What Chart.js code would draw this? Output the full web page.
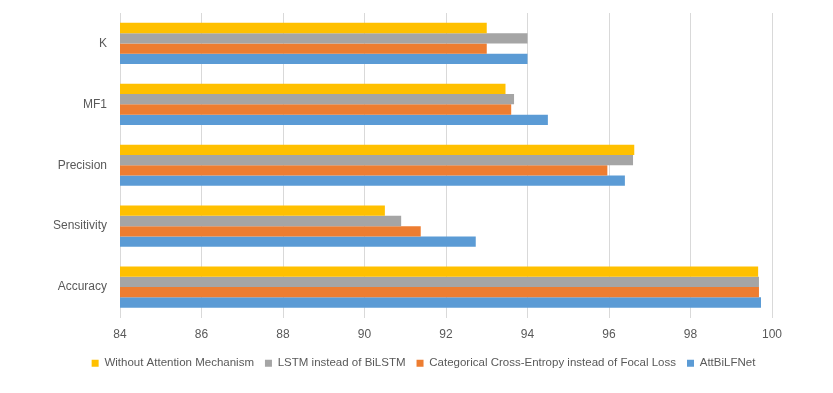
<!DOCTYPE html>
<html>
<head>
<meta charset="utf-8">
<script src="https://cdn.jsdelivr.net/npm/chart.js@4"></script>
<style>
  html, body { margin: 0; padding: 0; background: #fff; }
  #wrap { width: 833px; height: 393px; }
</style>
</head>
<body>
<div id="wrap"><canvas id="chart" width="833" height="393"></canvas></div>
<script>
// --- Data ---
const categories = ['K', 'MF1', 'Precision', 'Sensitivity', 'Accuracy'];
const seriesNames = [
    'Without Attention Mechanism',
    'LSTM instead of BiLSTM',
    'Categorical Cross-Entropy instead of Focal Loss',
    'AttBiLFNet'
];
const withoutAttention = [93.0, 93.46, 96.62, 90.5, 99.66];
const lstmInstead = [94.0, 93.67, 96.59, 90.9, 99.68];
const crossEntropy = [93.0, 93.6, 95.96, 91.38, 99.68];
const attBiLFNet = [94.0, 94.5, 96.39, 92.73, 99.73];
const xTicks = [84, 86, 88, 90, 92, 94, 96, 98, 100];

const colors = ['#FFC000', '#A5A5A5', '#ED7D31', '#5B9BD5'];
const textColor = '#595959';
const gridColor = '#D9D9D9';
const font = { family: '"Liberation Sans", Arial, sans-serif', size: 12 };
const legendFont = { family: '"Liberation Sans", Arial, sans-serif', size: 11.5 };

const seriesValues = [withoutAttention, lstmInstead, crossEntropy, attBiLFNet];

// fixed axis sizes, no extra label padding
const fixSize = (w) => scale => {
    scale.width = w;
    scale.paddingTop = 0;
    scale.paddingBottom = 0;
};

new Chart(document.getElementById('chart').getContext('2d'), {
    type: 'bar',
    data: {
        labels: categories,
        datasets: seriesValues.map((values, i) => ({
            label: seriesNames[i],
            data: values,
            backgroundColor: colors[i],
            borderWidth: 0,
            barPercentage: 1,
            categoryPercentage: 0.677
        }))
    },
    options: {
        indexAxis: 'y',
        responsive: false,
        animation: false,
        layout: { padding: { top: 13, left: 14, right: 0, bottom: 14 } },
        plugins: {
            tooltip: { enabled: false },
            legend: {
                position: 'bottom',
                labels: {
                    boxWidth: 7,
                    boxHeight: 7,
                    padding: 11,
                    color: textColor,
                    font: legendFont
                }
            }
        },
        scales: {
            x: {
                type: 'linear',
                position: 'bottom',
                min: xTicks[0],
                max: xTicks[xTicks.length - 1],
                afterBuildTicks: scale => { scale.ticks = xTicks.map(v => ({ value: v })); },
                ticks: { color: textColor, font: font, padding: 10 },
                grid: { color: gridColor, drawTicks: false },
                border: { display: false },
                afterFit: scale => { scale.height = 29; }
            },
            y: {
                type: 'category',
                grid: { display: false, drawTicks: false },
                border: { display: false },
                ticks: { color: textColor, font: font, padding: 13 },
                afterFit: fixSize(106)
            },
            yRight: {
                type: 'linear',
                axis: 'y',
                position: 'right',
                grid: { display: false, drawTicks: false },
                border: { display: false },
                ticks: { display: false },
                afterFit: fixSize(61)
            }
        }
    }
});
</script>
</body>
</html>
